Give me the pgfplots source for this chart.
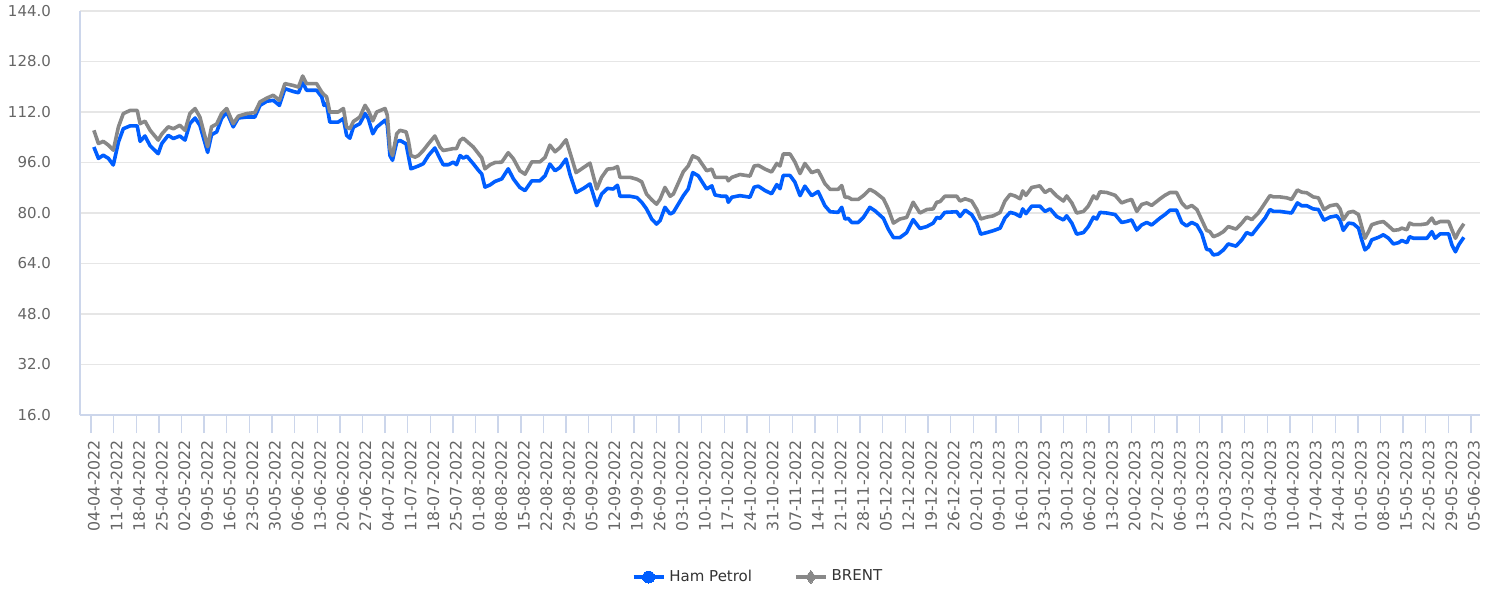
\documentclass[border=0pt]{standalone}
\usepackage{pgfplots}
\usepackage{pgfplotstable}
\pgfplotsset{compat=1.18}
\usepackage{fontspec}
\setmainfont{DejaVu Sans}
\definecolor{hamblue}{RGB}{0,94,255}
\definecolor{brentgray}{RGB}{136,136,136}
\definecolor{axcol}{HTML}{CCD6EB}
\definecolor{gridcol}{HTML}{E6E6E6}
\definecolor{labcol}{HTML}{666666}
\definecolor{legcol}{HTML}{333333}

\pgfplotstableread{
day ham brent
0.9 100.9 106.2
2.3 97.3 102.0
3.8 98.3 102.7
5.4 97.3 101.5
6.9 95.2 99.9
8.5 102.5 107.3
10.0 106.7 111.5
12.1 107.6 112.5
14.3 107.6 112.5
15.2 102.7 108.3
16.7 104.4 109.1
18.3 101.3 106.2
20.8 98.8 103.1
21.9 102.0 105.0
23.9 104.6 107.3
25.5 103.6 106.7
27.5 104.4 107.8
29.1 103.1 106.2
30.6 108.3 111.5
32.2 110.1 113.1
33.7 107.8 110.4
36.1 99.2 101.0
37.3 104.8 107.3
38.9 105.7 108.2
40.4 109.9 111.5
42.0 112.0 113.1
44.0 107.3 108.3
45.6 110.1 110.7
48.2 110.4 111.5
50.7 110.4 111.8
52.3 114.1 115.2
54.4 115.4 116.4
56.4 115.7 117.3
58.3 114.1 115.7
60.0 119.4 121.0
62.6 118.5 120.4
64.2 118.1 119.9
65.5 121.3 123.4
66.7 118.9 121.0
69.8 118.9 121.0
71.4 116.8 118.3
72.1 114.1 117.5
72.9 114.6 116.8
73.9 108.8 112.0
76.5 108.8 112.0
78.1 109.9 113.1
79.1 104.6 107.2
80.1 103.7 106.7
81.2 107.2 109.0
83.2 108.3 110.4
84.8 111.5 114.1
85.8 109.9 112.5
87.2 105.1 109.2
88.4 107.2 112.0
91.0 109.4 113.1
91.7 107.8 110.9
92.5 98.2 100.4
93.3 96.7 98.2
94.6 102.5 105.1
95.6 103.0 106.2
97.5 101.9 105.7
98.2 98.2 103.0
99.0 94.0 98.2
100.3 94.5 97.7
101.3 94.9 98.2
102.8 95.6 99.8
104.4 98.2 101.9
106.4 100.6 104.4
108.0 97.2 100.9
109.0 95.3 99.8
110.6 95.3 100.1
112.1 96.1 100.4
113.1 95.3 100.4
114.2 98.2 103.0
115.2 97.4 103.7
116.3 98.0 102.7
118.3 95.6 100.9
119.9 93.5 98.8
120.9 92.4 97.5
121.9 88.2 94.0
123.5 88.9 95.3
125.0 90.0 96.0
127.1 90.8 96.1
129.1 94.0 99.1
130.7 90.8 97.2
132.7 88.1 93.4
134.3 87.1 92.3
136.4 90.2 96.2
138.9 90.2 96.2
140.5 91.8 97.6
142.0 95.5 101.5
143.6 93.4 99.4
145.1 94.4 100.7
147.0 97.1 103.2
148.2 92.3 99.2
150.1 86.5 92.8
152.4 87.8 94.4
154.4 89.2 95.8
156.5 82.3 87.6
158.0 86.0 91.3
159.8 87.8 93.9
161.6 87.6 94.1
162.9 88.8 94.7
163.7 85.3 91.3
166.8 85.3 91.3
168.9 84.9 90.7
170.4 83.4 89.9
171.9 81.3 86.0
173.5 78.1 84.2
175.0 76.5 82.8
176.1 77.6 84.4
177.6 81.8 88.1
179.2 79.7 85.3
180.2 80.2 86.0
183.3 85.5 93.1
184.8 87.6 94.9
186.2 92.8 98.1
187.9 91.8 97.3
190.5 87.6 93.4
192.1 88.6 93.9
193.1 85.7 91.3
195.2 85.3 91.3
196.7 85.3 91.3
197.2 83.4 90.2
198.3 85.0 91.3
200.8 85.5 92.2
203.9 85.0 91.7
205.2 88.2 94.9
206.5 88.5 95.1
208.6 87.1 93.9
210.6 86.1 93.0
212.2 89.0 95.7
213.2 87.7 94.9
214.2 91.9 98.7
216.3 91.9 98.7
217.8 89.8 96.2
219.4 85.5 92.5
220.9 88.5 95.7
223.0 85.5 92.8
225.0 86.8 93.5
227.1 82.3 89.3
228.7 80.4 87.5
231.2 80.2 87.5
232.3 81.8 88.7
233.3 78.1 85.0
234.3 78.3 85.0
235.4 77.0 84.3
237.4 77.0 84.3
239.0 78.6 85.5
241.0 81.8 87.5
242.6 80.7 86.6
245.2 78.3 84.5
246.7 74.9 81.3
248.3 72.2 76.8
250.3 72.2 78.1
252.4 73.8 78.6
254.4 77.9 83.4
256.5 75.1 80.0
258.6 75.7 81.1
260.6 76.8 81.3
261.7 78.6 83.4
262.7 78.3 83.6
264.2 80.2 85.3
267.9 80.4 85.3
268.9 78.9 83.8
270.5 80.9 84.5
272.5 79.5 83.8
274.1 76.8 81.1
275.3 73.3 78.1
277.2 73.8 78.7
279.2 74.4 79.1
281.3 75.2 80.2
282.8 78.4 83.8
284.4 80.2 85.9
285.9 79.8 85.4
287.5 78.9 84.5
288.3 81.3 87.0
289.3 79.8 85.6
291.1 82.2 88.1
293.6 82.2 88.6
295.2 80.5 86.5
296.8 81.3 87.5
298.8 78.9 85.4
300.9 77.8 83.8
301.9 79.1 85.4
303.5 76.8 83.2
305.0 73.3 80.0
307.1 73.8 80.5
308.6 75.7 82.2
310.2 78.7 85.4
311.2 78.1 84.5
312.2 80.2 86.7
314.3 80.0 86.5
316.9 79.5 85.6
318.9 77.0 83.2
320.4 77.3 83.8
322.0 77.8 84.3
323.6 74.6 80.5
325.1 76.2 82.7
326.7 77.0 83.2
328.2 76.2 82.4
330.8 78.4 84.5
332.3 79.5 85.6
333.9 80.9 86.5
335.9 80.9 86.5
337.5 77.0 83.2
339.0 75.9 81.6
340.6 77.0 82.4
342.2 76.2 81.1
343.7 73.5 77.8
345.2 68.5 74.5
346.2 68.3 74.1
347.3 66.7 72.5
348.8 67.0 73.1
350.4 68.3 74.1
351.9 70.2 75.7
354.3 69.5 74.9
356.1 71.5 76.8
357.6 73.8 78.7
359.2 73.1 77.9
361.2 75.7 80.0
363.3 78.4 83.2
364.8 81.1 85.5
365.9 80.5 85.1
367.9 80.5 85.1
370.0 80.2 84.8
371.5 80.0 84.3
373.3 83.2 87.3
374.6 82.3 86.6
376.2 82.3 86.4
378.2 81.3 85.1
379.8 81.1 84.8
381.5 77.7 81.1
383.4 78.7 82.3
385.5 79.1 82.7
386.5 77.7 81.3
387.5 74.5 77.9
389.1 76.8 80.2
390.6 76.6 80.5
392.2 75.2 79.5
393.2 71.5 75.7
394.2 68.3 72.0
395.3 69.3 74.1
396.3 71.5 76.3
398.4 72.3 77.0
399.9 73.1 77.3
401.5 72.0 75.9
403.0 70.2 74.5
404.6 70.6 74.7
405.6 71.3 75.2
407.2 70.6 74.7
408.0 72.5 76.8
409.2 72.0 76.3
411.3 72.0 76.3
413.4 72.0 76.6
414.9 74.1 78.4
415.9 72.0 76.6
417.5 73.4 77.3
420.1 73.4 77.3
421.1 69.9 74.7
422.2 67.7 72.0
423.2 69.9 74.1
424.8 72.3 76.6
}\prices

\begin{document}
\begin{tikzpicture}
\useasboundingbox (-40pt,-87pt) rectangle (706.5pt,207.5pt);
\begin{axis}[
  at={(0,0)}, anchor=south west,
  scale only axis,
  width=700pt, height=202pt,
  xmin=-3.4, xmax=429.8,
  ymin=16, ymax=144,
  ytick={16,32,...,144},
  xtick={0,7,...,427},
  xticklabels={04-04-2022,11-04-2022,18-04-2022,25-04-2022,02-05-2022,09-05-2022,16-05-2022,23-05-2022,30-05-2022,06-06-2022,13-06-2022,20-06-2022,27-06-2022,04-07-2022,11-07-2022,18-07-2022,25-07-2022,01-08-2022,08-08-2022,15-08-2022,22-08-2022,29-08-2022,05-09-2022,12-09-2022,19-09-2022,26-09-2022,03-10-2022,10-10-2022,17-10-2022,24-10-2022,31-10-2022,07-11-2022,14-11-2022,21-11-2022,28-11-2022,05-12-2022,12-12-2022,19-12-2022,26-12-2022,02-01-2023,09-01-2023,16-01-2023,23-01-2023,30-01-2023,06-02-2023,13-02-2023,20-02-2023,27-02-2023,06-03-2023,13-03-2023,20-03-2023,27-03-2023,03-04-2023,10-04-2023,17-04-2023,24-04-2023,01-05-2023,08-05-2023,15-05-2023,22-05-2023,29-05-2023,05-06-2023},
  axis x line*=bottom,
  axis y line*=left,
  axis line style={color=axcol, line width=0.6pt},
  ymajorgrids,
  grid style={color=gridcol, line width=0.6pt},
  x tick style={color=axcol, line width=0.7pt},
  xtick align=outside,
  major tick length=9pt,
  y tick style={draw=none},
  yticklabel style={font=\fontsize{7.5}{9}\selectfont, text=labcol, anchor=east, xshift=-11pt},
  xticklabel style={font=\fontsize{7.9}{9}\selectfont, text=labcol, rotate=90, anchor=east, yshift=-1.5pt},
  /pgf/number format/.cd, fixed, fixed zerofill, precision=1, assume math mode=true,
  /pgfplots/.cd,
  legend style={at={(0.485,-0.401)}, anchor=center, draw=none, fill=none,
    font=\fontsize{7.5}{9}\selectfont, text=legcol, legend columns=2,
    /tikz/every even column/.append style={column sep=19pt}},
  legend image code/.code={\draw[mark repeat=2,mark phase=2,#1] plot coordinates {(0pt,0pt) (7.5pt,0pt) (15pt,0pt)};},
]
\addplot[hamblue, line width=1.8pt, line join=round, no markers, forget plot] table[x=day, y=ham] {\prices};
\addplot[brentgray, line width=1.8pt, line join=round, no markers, forget plot] table[x=day, y=brent] {\prices};
\addlegendimage{hamblue, line width=1.8pt, mark=*, mark size=3pt, mark options={solid, fill=hamblue, draw=hamblue, line width=0pt}}
\addlegendentry{Ham Petrol}
\addlegendimage{brentgray, line width=1.8pt, mark=diamond*, mark size=3.3pt, mark options={solid, fill=brentgray, draw=brentgray, line width=0pt}}
\addlegendentry{BRENT}
\end{axis}
\end{tikzpicture}
\end{document}
